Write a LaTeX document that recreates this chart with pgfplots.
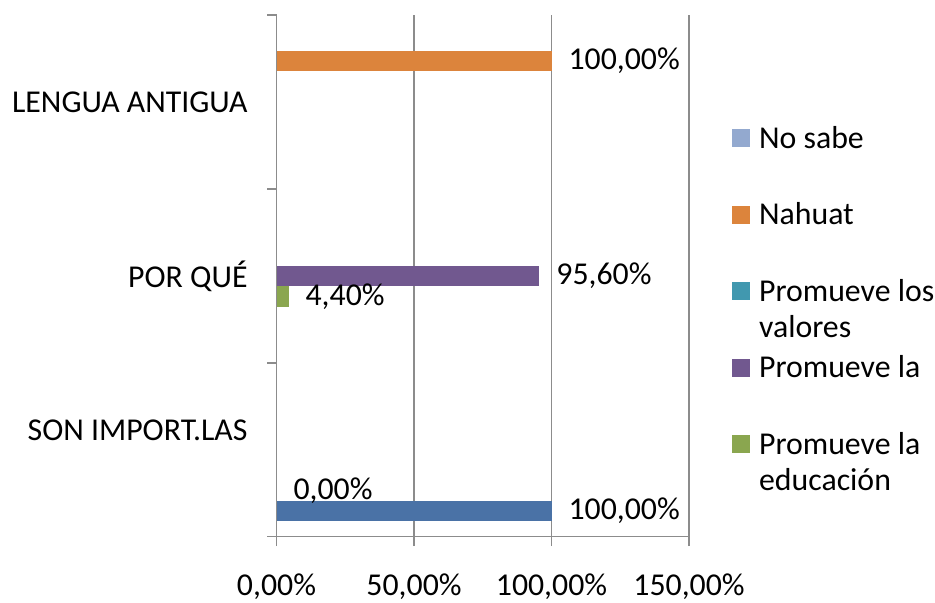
\documentclass[border=0pt]{standalone}
\usepackage{pgfplots}
\pgfplotsset{compat=1.18}
\usepackage{fontspec}
\setmainfont{Carlito}
\definecolor{cBlue}{HTML}{4A72A6}
\definecolor{cLight}{HTML}{93A9CF}
\definecolor{cOrange}{HTML}{DC843C}
\definecolor{cTeal}{HTML}{4198AF}
\definecolor{cPurple}{HTML}{71588F}
\definecolor{cGreen}{HTML}{8AA64F}
\definecolor{cGrid}{HTML}{8C8C8C}
\pgfplotsset{
  mylegend/.style={legend image code/.code={\path[##1,draw=none] (0pt,0.6pt) rectangle (9pt,9.6pt);}},
}
\newcommand{\chartfont}{\fontsize{15.9}{18}\selectfont}
\begin{document}
\chartfont
\begin{tikzpicture}
\useasboundingbox (0,0) rectangle (467.5pt,301.5pt);
\begin{axis}[
  at={(138.25pt,33.15pt)}, anchor=south west,
  scale only axis, width=206.25pt, height=260.85pt,
  xbar, bar width=10.23pt,
  xmin=0, xmax=150, ymin=-0.5, ymax=2.5,
  clip=false,
  axis lines*=left,
  axis line style={draw=cGrid, line width=0.8pt, -},
  tick align=outside,
  major tick length=4.75pt,
  tick style={draw=cGrid, line width=0.8pt},
  xtick={0,50,100,150},
  xticklabels={{0,00\%},{50,00\%},{100,00\%},{150,00\%}},
  xmajorgrids, grid style={draw=cGrid, line width=0.8pt},
  ytick={-0.5,0.5,1.5,2.5}, yticklabels={,,,},
  extra y ticks={0.109,1,2},
  extra y tick labels={SON IMPORT.LAS,POR QUÉ,LENGUA ANTIGUA},
  extra y tick style={major tick length=0pt, tick style={draw=none},
    yticklabel style={xshift=-9pt}},
  tick label style={font=\chartfont, text=black},
  xticklabel style={inner sep=0pt, yshift=-13.6pt},
  /pgf/number format/assume math mode=true,
  point meta=x,
  nodes near coords={\pgfmathprintnumber[fixed,fixed zerofill,precision=2,use comma]{\pgfplotspointmeta}\%},
  every node near coord/.append style={anchor=west, xshift=3pt, text=black, font=\chartfont},
  legend style={at={(1.1035,0.7834)}, anchor=north west, draw=none, fill=none,
    inner sep=0pt, row sep=0pt, column sep=4.5pt,
    cells={anchor=base west},
    nodes={inner sep=0pt, text height=10pt, text depth=28.25pt},
    font=\chartfont},
]
\addplot[xbar, fill=cBlue, draw=none, bar shift=-30.69pt, forget plot] coordinates {(100,0)};
\addplot[xbar, fill=none, draw=none, bar shift=-20.46pt, forget plot] coordinates {(0,0)};
\addlegendimage{mylegend, fill=cLight, draw=none}
\addlegendentry{No sabe}
\addplot[xbar, fill=cOrange, draw=none, bar shift=20.46pt, mylegend] coordinates {(100,2)};
\addlegendentry{Nahuat}
\addlegendimage{mylegend, fill=cTeal, draw=none}
\addlegendentry{\begin{tabular}[t]{@{}l@{}}Promueve los\\valores\end{tabular}}
\addplot[xbar, fill=cPurple, draw=none, bar shift=0pt, mylegend] coordinates {(95.6,1)};
\addlegendentry{Promueve la}
\addplot[xbar, fill=cGreen, draw=none, bar shift=-10.23pt, mylegend] coordinates {(4.4,1)};
\addlegendentry{\begin{tabular}[t]{@{}l@{}}Promueve la\\educación\end{tabular}}
\end{axis}
\end{tikzpicture}
\end{document}
